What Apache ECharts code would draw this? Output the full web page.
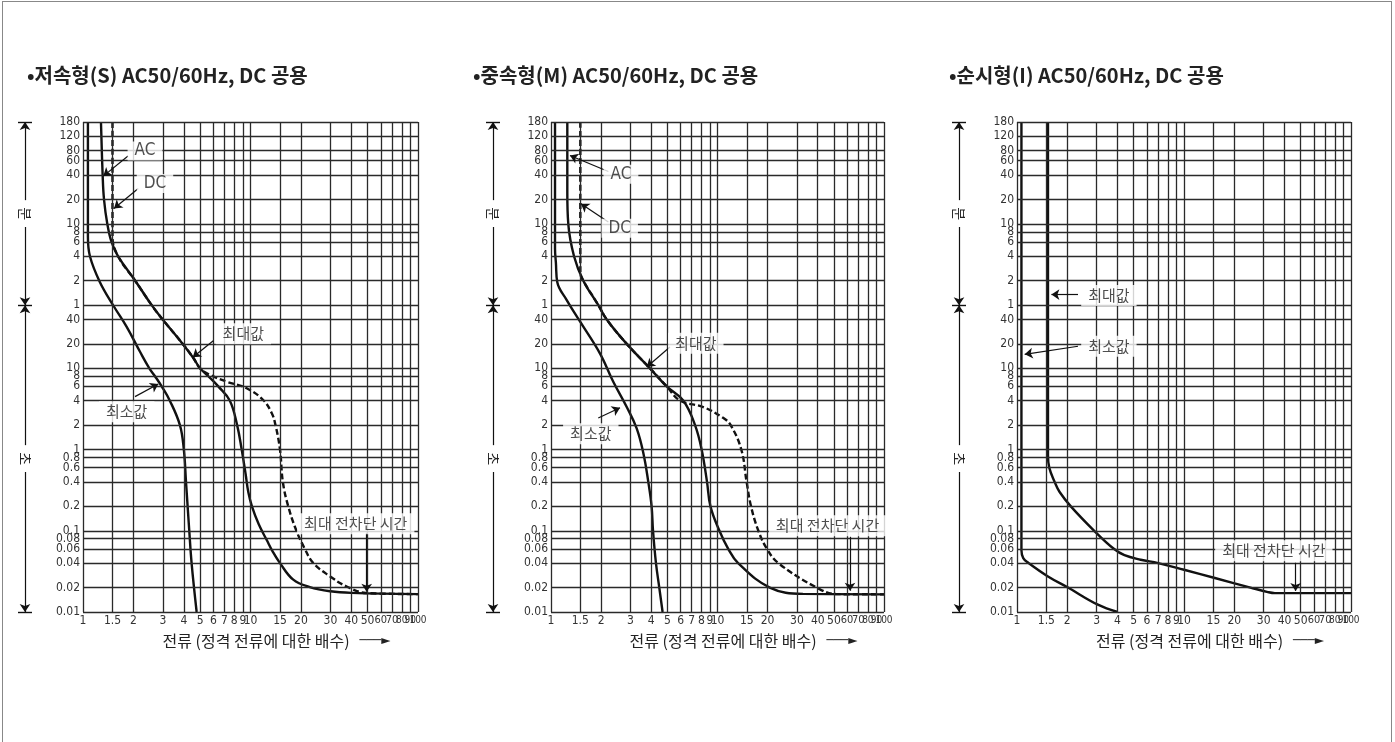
<!DOCTYPE html>
<html><head><meta charset="utf-8">
<script src="https://cdn.jsdelivr.net/npm/echarts@6/dist/echarts.min.js"></script>
<style>
html,body{margin:0;padding:0;background:#fff}
#wrap{position:relative;width:1395px;height:742px;overflow:hidden}
#frame{position:absolute;left:2px;top:1px;width:1390px;height:800px;border:1px solid #888;box-sizing:border-box;pointer-events:none;z-index:2}
#c{position:absolute;left:0;top:0;width:1395px;height:742px}
</style>
</head><body><div id="wrap"><div id="c"></div><div id="frame"></div></div>
<script>
// ---- axis ticks ----
const xTickValues = [1,1.5,2,3,4,5,6,7,8,9,10,15,20,30,40,50,60,70,80,90,100];
const xTickLabels = ['1','1.5','2','3','4','5','6','7','8','9','10','15','20','30','40','50','60','70','80','90','100'];
const minuteTicks = [180,120,80,60,40,20,10,8,6,4,2,1];            // minutes
const secondTicks = [40,20,10,8,6,4,2,1,0.8,0.6,0.4,0.2,0.1,0.08,0.06,0.04,0.02,0.01]; // seconds

// ---- titles ----
const titles = ['•저속형(S) AC50/60Hz, DC 공용', '•중속형(M) AC50/60Hz, DC 공용', '•순시형(I) AC50/60Hz, DC 공용'];
const xName = '전류 (정격 전류에 대한 배수)';

// ---- curves: [current multiple, time in seconds] ----
const sMin = [[1.07,10800],[1.07,420],[1.1,240],[1.26,116],[1.52,59],[1.82,32.6],[2.19,16],[2.49,10],[2.69,8],[2.95,6],[3.3,4],[3.79,2],[4.0,1],[4.12,0.4],[4.31,0.1],[4.45,0.04],[4.77,0.01]];
const sMaxAC = [[1.28,10800],[1.31,2400],[1.335,1200],[1.397,600],[1.48,360],[1.62,240],[2.05,120],[2.57,60],[2.99,40],[3.94,20],[4.55,13.5],[5.0,10],[5.6,8],[6.42,6],[7.53,4],[8.32,2],[8.86,1],[9.35,0.5],[9.7,0.3],[10.2,0.2],[11.2,0.12],[12.5,0.077],[13.6,0.055],[15.0,0.04],[18.0,0.025],[22.6,0.0203],[30,0.018],[40,0.0172],[100,0.0166]];
const sMaxDC = [[1.5,10800],[1.5,420],[1.62,240],[2.05,120],[2.57,60],[2.99,40],[3.94,20],[4.55,13.5],[5.0,10],[5.6,8.5],[7.2,6.86],[9.49,5.69],[11.9,4.08],[13.4,2.8],[14.1,2],[15.0,1],[15.6,0.4],[16.8,0.2],[18.8,0.1],[21.1,0.06],[23.7,0.04],[29.9,0.0274],[37.5,0.0206],[49.4,0.0171],[100,0.0166]];

const mMin = [[1.057,10800],[1.057,300],[1.07,200],[1.091,115],[1.243,69.4],[1.493,37.8],[1.97,15.2],[2.37,6.78],[2.85,3.34],[3.27,1.82],[3.59,0.895],[3.84,0.4],[4.02,0.2],[4.1,0.1],[4.27,0.04],[4.47,0.02],[4.68,0.01]];
const mMaxAC = [[1.253,10800],[1.253,1500],[1.27,600],[1.375,240],[1.563,120],[1.925,60],[2.16,40],[2.85,20],[3.93,10],[4.95,6],[6.24,4],[7.33,2],[8.03,1],[8.65,0.4],[9.07,0.2],[10.27,0.1],[11.6,0.06],[13.3,0.04],[20.6,0.02],[32.6,0.0167],[100,0.0165]];
const mMaxDC = [[1.5,10800],[1.5,150],[1.563,120],[1.925,60],[2.16,40],[2.85,20],[3.93,10],[4.95,6],[5.96,4],[8.2,3.34],[10.8,2.46],[12.0,2],[13.9,1],[14.96,0.4],[15.9,0.2],[17.6,0.1],[19.8,0.06],[23.2,0.04],[39.4,0.02],[52,0.0166],[100,0.0165]];

const iMin = [[1.063,10800],[1.063,0.058],[1.09,0.046],[1.175,0.04],[1.533,0.0274],[2.02,0.02],[3.05,0.0123],[4.0,0.01]];
const iMax = [[1.533,10800],[1.533,0.85],[1.56,0.6],[1.68,0.4],[1.8,0.3],[2.1,0.2],[2.9,0.1],[3.8,0.06],[4.4,0.05],[5.5,0.044],[7.0,0.04],[10,0.0331],[15.3,0.0262],[25,0.02],[31.8,0.0176],[35,0.0171],[100,0.0171]];

// ---- annotations: [text, x, y] and arrows [x1, y1, x2, y2] ----
const sNotes = [['AC',2.345,4750],['DC',2.69,1892],['최대값',9.06,26.7],['최소값',1.824,2.93],['최대 전차단 시간',42.5,0.122]];
const sArrows = [[1.857,4120,1.322,2330],[2.138,1641,1.531,931],[6.0,21.9,4.52,13.7],[2.044,4.49,2.816,6.43],[49.4,0.0944,49.4,0.0178]];
const mNotes = [['AC',2.63,2455],['DC',2.586,530],['최대값',7.41,20.4],['최소값',1.734,1.565],['최대 전차단 시간',45.8,0.1156]];
const mArrows = [[2.21,2650,1.30,4170],[2.21,632,1.514,1064],[5.18,18.3,3.76,10.4],[1.923,2.45,2.597,3.27],[62.5,0.0844,62.5,0.0183]];
const iNotes = [['최대값',3.55,78.9],['최소값',3.55,18.7],['최대 전차단 시간',34.5,0.0569]];
const iArrows = [[2.319,80.9,1.607,80.9],[2.319,18.7,1.112,14.9],[46.6,0.0404,46.6,0.0182]];

// ---- side range markers (seconds) ----
const minuteRange = [10800, 60];
const secondRange = [60, 0.01];

// ---- layout / style ----
const NARROW = "'Liberation Sans Narrow','DejaVu Sans Condensed','Arial Narrow',sans-serif";
const KR = "'Noto Sans CJK KR','Noto Sans CJK SC',sans-serif";
const INK = '#111';
const GRIDC = '#2a2a2a';
const plots = [{left:83,width:335},{left:551,width:333},{left:1017,width:334}];
const titleLeft = [22, 468, 944];
const TOP = 122, HEIGHT = 490;

const panels = [
  {curves:[[sMaxDC,true],[sMaxAC,false],[sMin,false]], notes:sNotes, arrows:sArrows},
  {curves:[[mMaxDC,true],[mMaxAC,false],[mMin,false]], notes:mNotes, arrows:mArrows},
  {curves:[[iMax,false],[iMin,false]], notes:iNotes, arrows:iArrows}
];

function gridLineData(){
  const d = [];
  xTickValues.forEach((v,i)=>{
    const it = {xAxis:v, name:xTickLabels[i]};
    if (v >= 80) it.label = {fontSize:10};
    else if (v >= 60) it.label = {fontSize:11};
    d.push(it);
  });
  minuteTicks.forEach(m=>d.push({yAxis:m*60, name:String(m)}));
  secondTicks.forEach(s=>d.push({yAxis:s, name:String(s)}));
  return d;
}

const grid=[], xAxis=[], yAxis=[], series=[];
plots.forEach((p,i)=>{
  grid.push({left:p.left, width:p.width, top:TOP, height:HEIGHT});
  xAxis.push({type:'log', logBase:10, min:1, max:100, gridIndex:i,
    axisLine:{show:false}, axisTick:{show:false}, axisLabel:{show:false}, splitLine:{show:false},
    name:'{t|'+xName+'}{a|───►}', nameLocation:'middle', nameGap:21,
    nameTextStyle:{padding:[0,0,0,52], rich:{
      t:{fontFamily:KR, fontSize:16, color:'#222'},
      a:{fontFamily:"'DejaVu Sans',sans-serif", fontSize:12, color:'#222', padding:[0,0,0,10]}
    }}});
  yAxis.push({type:'log', logBase:10, min:0.01, max:10800, gridIndex:i,
    axisLine:{show:false}, axisTick:{show:false}, axisLabel:{show:false}, splitLine:{show:false}});
});
// side helper grids for 분 / 초 arrows
plots.forEach((p,i)=>{
  grid.push({left:p.left-65, width:14, top:TOP, height:HEIGHT});
  xAxis.push({type:'value', min:0, max:1, gridIndex:3+i, show:false});
  yAxis.push({type:'log', logBase:10, min:0.01, max:10800, gridIndex:3+i, show:false});
});

panels.forEach((pn,i)=>{
  // grid lines + tick labels
  series.push({type:'line', xAxisIndex:i, yAxisIndex:i, data:[], silent:true, z:1,
    markLine:{silent:true, animation:false, symbol:['none','none'],
      lineStyle:{color:GRIDC, width:1.3, type:'solid'},
      label:{show:true, position:'start', distance:3, formatter:'{b}', color:'#333', fontFamily:NARROW, fontSize:12},
      emphasis:{disabled:true},
      data:gridLineData()}});
  // curves
  pn.curves.forEach(([data,dashed])=>{
    series.push({type:'line', xAxisIndex:i, yAxisIndex:i, data:data, symbol:'none', showSymbol:false,
      smooth:0.4, silent:true, z:3,
      lineStyle:{color:INK, width:2.4, type: dashed ? [6,3] : 'solid'}});
  });
  // annotations
  series.push({type:'scatter', xAxisIndex:i, yAxisIndex:i, silent:true, z:5, symbolSize:1,
    itemStyle:{color:'rgba(0,0,0,0)'},
    data:pn.notes.map(n=>{
      const it = {value:[n[1],n[2]], name:n[0]};
      if (/^[A-Z]+$/.test(n[0])) it.label = {fontFamily:NARROW, fontSize:17, padding:[1,7]};
      return it;
    }),
    label:{show:true, position:'inside', formatter:'{b}', backgroundColor:'#fff', padding:[3,7],
      color:'#222', fontFamily:KR, fontSize:15},
    markLine:{silent:true, animation:false, symbol:['none','arrow'], symbolSize:8,
      lineStyle:{color:INK, width:1.2, type:'solid'}, label:{show:false},
      data:pn.arrows.map(a=>[{coord:[a[0],a[1]]},{coord:[a[2],a[3]]}])}});
  // side arrows 분 / 초
  series.push({type:'line', xAxisIndex:3+i, yAxisIndex:3+i, data:[], silent:true, z:4,
    markLine:{silent:true, animation:false, symbol:['arrow','arrow'], symbolSize:8,
      lineStyle:{color:INK, width:1.2, type:'solid'},
      label:{show:true, position:'insideMiddle', formatter:'{b}', backgroundColor:'#fff', padding:[0,7],
        color:'#222', fontFamily:KR, fontSize:14, distance:0},
      data:[
        [{coord:[0.5,minuteRange[0]], name:'분'},{coord:[0.5,minuteRange[1]]}],
        [{coord:[0.5,secondRange[0]], name:'초'},{coord:[0.5,secondRange[1]]}]
      ]}});
  series.push({type:'line', xAxisIndex:3+i, yAxisIndex:3+i, data:[], silent:true, z:4,
    markLine:{silent:true, animation:false, symbol:['none','none'],
      lineStyle:{color:INK, width:1.4, type:'solid'}, label:{show:false},
      data:[{yAxis:minuteRange[0]},{yAxis:minuteRange[1]},{yAxis:secondRange[1]}]}});
});

const option = {
  animation:false,
  backgroundColor:'#fff',
  title: titles.map((t,i)=>({text:t, left:titleLeft[i], top:60,
    textStyle:{fontFamily:KR, fontWeight:'bold', fontSize:20, color:'#222'}})),
  grid, xAxis, yAxis, series
};
const chart = echarts.init(document.getElementById('c'), null, {renderer:'canvas'});
chart.setOption(option);
</script>
</body></html>
